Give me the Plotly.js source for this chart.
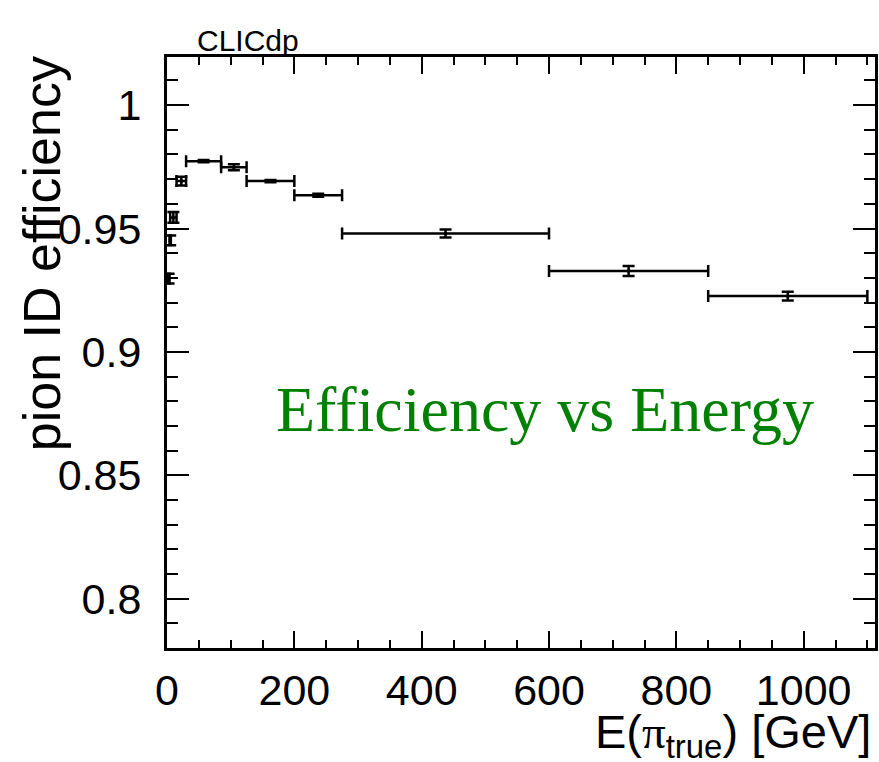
<!DOCTYPE html>
<html>
<head>
<meta charset="utf-8">
<script src="https://cdn.plot.ly/plotly-3.0.1.min.js"></script>
<style>
  html, body { margin: 0; padding: 0; background: #fff; }
  #chart { width: 879px; height: 762px; }
</style>
</head>
<body>
<div id="chart"></div>
<script>
// Pion identification efficiency per true-energy bin
const energyCenter = [2.5, 5, 10, 22.5, 57.5, 105, 162.5, 237.5, 437.5, 725, 975];
const energyHalfWidth = [1.5, 1, 5, 7.5, 27.5, 20, 37.5, 37.5, 162.5, 125, 125];
const efficiency = [0.9297, 0.9452, 0.9545, 0.9692, 0.9773, 0.9748, 0.9692, 0.9635, 0.9480, 0.9328, 0.9226];
const efficiencyErr = [0.002, 0.002, 0.0022, 0.0018, 0.0005, 0.0012, 0.0005, 0.0006, 0.0016, 0.0020, 0.0018];

const xTickVals = [0, 200, 400, 600, 800, 1000];
const xTickText = ['0', '200', '400', '600', '800', '1000'];
const yTickVals = [0.8, 0.85, 0.9, 0.95, 1];
const yTickText = ['0.8', '0.85', '0.9', '0.95', '1'];

const trace = {
  type: 'scatter',
  mode: 'markers',
  x: energyCenter,
  y: efficiency,
  marker: { symbol: 'square', size: 3, color: '#000' },
  error_x: { type: 'data', array: energyHalfWidth, color: '#000', thickness: 2.5, width: 6 },
  error_y: { type: 'data', array: efficiencyErr, color: '#000', thickness: 2.5, width: 6 },
  hoverinfo: 'x+y',
  showlegend: false,
  cliponaxis: true
};

const font = 'Liberation Sans, Arial, Helvetica, sans-serif';

const layout = {
  width: 879,
  height: 762,
  margin: { l: 167, r: 4, t: 57, b: 114, pad: 0 },
  paper_bgcolor: '#fff',
  plot_bgcolor: '#fff',
  showlegend: false,
  xaxis: {
    range: [0, 1112],
    tickmode: 'array',
    tickvals: xTickVals,
    ticktext: xTickText,
    ticks: 'inside',
    ticklen: 17,
    tickwidth: 2,
    tickcolor: '#000',
    minor: { dtick: 50, tick0: 0, ticks: 'inside', ticklen: 8, tickwidth: 2, tickcolor: '#000' },
    showline: true,
    linecolor: '#000',
    linewidth: 3,
    mirror: 'allticks',
    showgrid: false,
    zeroline: false,
    ticklabelstandoff: 2,
    tickfont: { family: font, size: 43, color: '#000' }
  },
  yaxis: {
    range: [0.78, 1.0195],
    tickmode: 'array',
    tickvals: yTickVals,
    ticktext: yTickText,
    ticks: 'inside',
    ticklen: 22,
    tickwidth: 2,
    tickcolor: '#000',
    minor: { dtick: 0.01, tick0: 0, ticks: 'inside', ticklen: 11, tickwidth: 2, tickcolor: '#000' },
    showline: true,
    linecolor: '#000',
    linewidth: 3,
    mirror: 'allticks',
    showgrid: false,
    zeroline: false,
    ticklabelstandoff: 14,
    tickfont: { family: font, size: 43, color: '#000' }
  },
  annotations: [
    {
      text: 'CLICdp',
      xref: 'paper', yref: 'paper',
      x: (195 - 167) / 708, y: 1,
      xanchor: 'left', yanchor: 'bottom',
      yshift: -2,
      showarrow: false,
      font: { family: font, size: 30, color: '#000' }
    },
    {
      text: 'Efficiency vs Energy',
      xref: 'paper', yref: 'paper',
      x: 0.534, y: 0.403,
      xanchor: 'center', yanchor: 'middle',
      showarrow: false,
      font: { family: 'Liberation Serif, Times New Roman, serif', size: 64, color: '#008000' }
    },
    {
      text: 'E(<span style="font-family:Liberation Serif, serif">π</span><sub>true</sub>) [GeV]',
      xref: 'paper', yref: 'paper',
      x: 0.997, y: -0.093,
      xanchor: 'right', yanchor: 'top',
      showarrow: false,
      font: { family: font, size: 47, color: '#000' }
    },
    {
      text: 'pion ID efficiency',
      xref: 'paper', yref: 'paper',
      x: (42 - 167) / 708, y: 1.004,
      xanchor: 'center', yanchor: 'top',
      textangle: -90,
      showarrow: false,
      font: { family: font, size: 52, color: '#000' }
    }
  ]
};

Plotly.newPlot('chart', [trace], layout, { displayModeBar: false, staticPlot: true });
</script>
</body>
</html>
